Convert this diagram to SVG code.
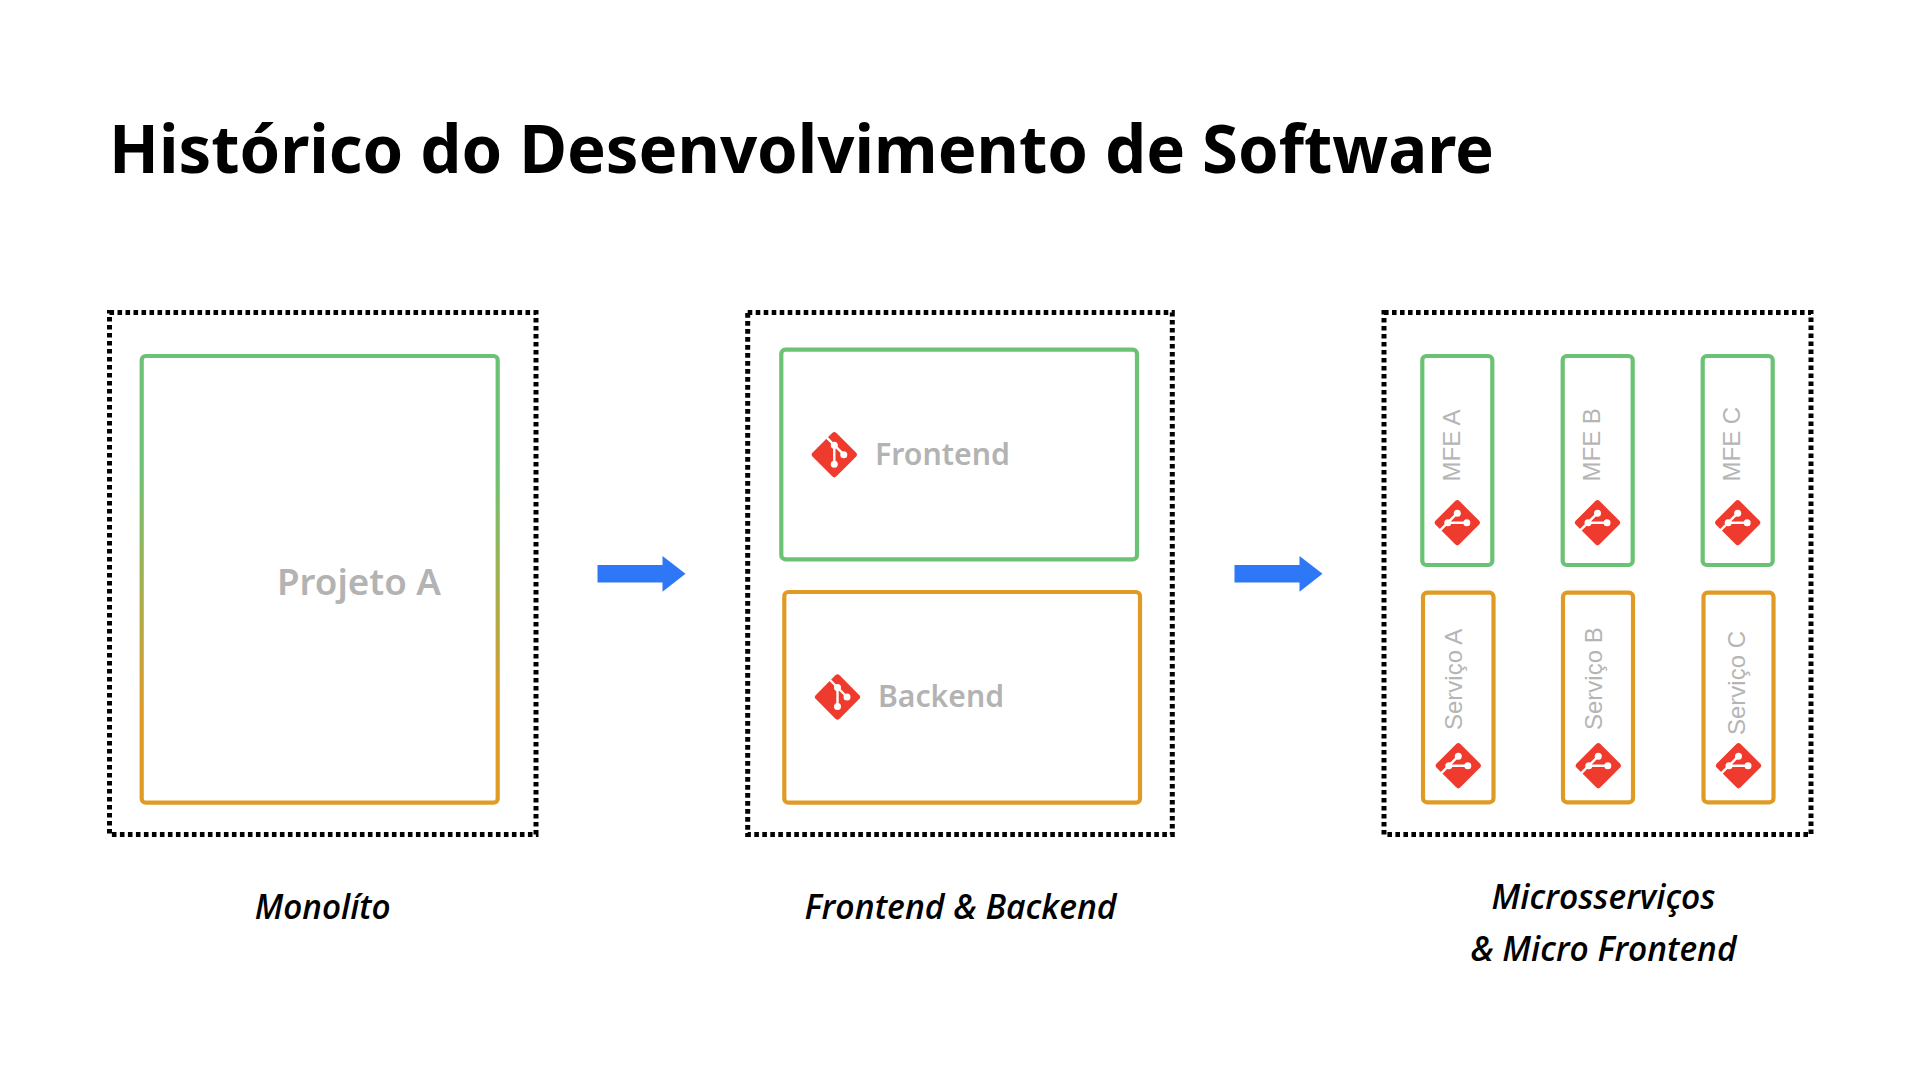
<svg xmlns="http://www.w3.org/2000/svg" xmlns:xlink="http://www.w3.org/1999/xlink" width="1920" height="1080" viewBox="0 0 1920 1080">
<style>
.dot{fill:none;stroke:#000;stroke-width:5;stroke-dasharray:4.6 3.4}
.box{fill:#fff;stroke-width:4.2;stroke-linejoin:round}
.g{stroke:#6cc274}
.o{stroke:#e09b27}
.lbl{font-family:"Noto Sans",sans-serif;font-weight:600;fill:#b3b3b3}
.v{font-family:"Liberation Sans",Arial,sans-serif;font-size:24px;fill:#b5b5b5}
.cap{font-family:"Open Sans",sans-serif;font-style:italic;font-weight:600;font-size:35px;fill:#000;text-anchor:middle}
</style>
<defs>
<linearGradient id="mono" x1="0" y1="0" x2="0" y2="1"><stop offset="0" stop-color="#6cc274"/><stop offset="0.25" stop-color="#6cc274"/><stop offset="0.8" stop-color="#e09b27"/><stop offset="1" stop-color="#e09b27"/></linearGradient>
<g id="git">
<rect x="-16.800000" y="-16.800000" width="33.600000" height="33.600000" rx="3" fill="#ef3b2d" transform="rotate(45)"/>
<path d="M-9 -18.500000L0 -9.500000V9.500000M0 -9.500000L9.500000 0" fill="none" stroke="#fff" stroke-width="2.400000"/>
<circle cx="0" cy="-9.500000" r="3.500000" fill="#fff"/><circle cx="0" cy="9.500000" r="3.500000" fill="#fff"/><circle cx="9.500000" cy="0" r="3.500000" fill="#fff"/>
</g>
<path id="arrow" d="M0 -8.700000H65V-17.700000L88 0L65 18V8.700000H0Z" fill="#2e77f6"/>
</defs>
<rect width="1920" height="1080" fill="#fff"/>
<text id="title" x="109" y="173" font-family="Noto Sans, sans-serif" font-weight="700" font-size="67" textLength="1385" lengthAdjust="spacingAndGlyphs" fill="#000">Histórico do Desenvolvimento de Software</text>
<g id="connectors">
<use xlink:href="#arrow" x="597.500000" y="573.700000"/>
<use xlink:href="#arrow" x="1234.500000" y="573.700000"/>
</g>
<g id="monolito">
<rect class="dot" x="109.500000" y="312.500000" width="426.500000" height="522"/>
<rect x="141.700000" y="356" width="356" height="446.700000" rx="4" fill="#fff" stroke="url(#mono)" stroke-width="4.200000"/>
<text class="lbl" x="277" y="595" font-size="36" textLength="164" lengthAdjust="spacingAndGlyphs">Projeto A</text>
<text class="cap" x="322.700000" y="918.800000" textLength="136" lengthAdjust="spacingAndGlyphs">Monolíto</text>
</g>
<g id="frontend-backend">
<rect class="dot" x="747.700000" y="312.500000" width="424.600000" height="522"/>
<g id="frontend"><rect class="box g" x="781.300000" y="349.700000" width="355.700000" height="209.600000" rx="4"/>
<use xlink:href="#git" x="834.300000" y="454.700000"/>
<text class="lbl" x="875" y="465" font-size="31" textLength="135" lengthAdjust="spacingAndGlyphs">Frontend</text></g>
<g id="backend"><rect class="box o" x="784.300000" y="592" width="355.700000" height="210.700000" rx="4"/>
<use xlink:href="#git" x="837.500000" y="697"/>
<text class="lbl" x="878" y="707" font-size="31" textLength="126" lengthAdjust="spacingAndGlyphs">Backend</text></g>
<text class="cap" x="960.600000" y="918.800000" textLength="312" lengthAdjust="spacingAndGlyphs">Frontend &amp; Backend</text>
</g>
<g id="micro">
<rect class="dot" x="1384" y="312.500000" width="427" height="522"/>
<g id="mfe-a"><rect class="box g" x="1422.300000" y="356" width="70" height="209" rx="4"/><use xlink:href="#git" transform="translate(1457.300000 522.700000) rotate(-90)"/><text class="v" transform="translate(1460.300000 481.500000) rotate(-90)">MFE A</text></g>
<g id="mfe-b"><rect class="box g" x="1562.700000" y="356" width="70" height="209" rx="4"/><use xlink:href="#git" transform="translate(1597.500000 522.700000) rotate(-90)"/><text class="v" transform="translate(1600.300000 481.500000) rotate(-90)">MFE B</text></g>
<g id="mfe-c"><rect class="box g" x="1702.700000" y="356" width="70" height="209" rx="4"/><use xlink:href="#git" transform="translate(1737.700000 522.700000) rotate(-90)"/><text class="v" transform="translate(1740.300000 481.500000) rotate(-90)">MFE C</text></g>
<g id="servico-a"><rect class="box o" x="1423" y="592.700000" width="70.500000" height="209.600000" rx="4"/><use xlink:href="#git" transform="translate(1458.300000 765.700000) rotate(-90)"/><text class="v" transform="translate(1461.700000 730) rotate(-90)">Serviço A</text></g>
<g id="servico-b"><rect class="box o" x="1563" y="592.700000" width="70" height="209.600000" rx="4"/><use xlink:href="#git" transform="translate(1598.300000 765.700000) rotate(-90)"/><text class="v" transform="translate(1601.700000 730) rotate(-90)">Serviço B</text></g>
<g id="servico-c"><rect class="box o" x="1703.500000" y="592.700000" width="70" height="209.600000" rx="4"/><use xlink:href="#git" transform="translate(1738.500000 765.700000) rotate(-90)"/><text class="v" transform="translate(1745 735) rotate(-90)">Serviço C</text></g>
<text class="cap" x="1603.500000" y="908.800000" textLength="224" lengthAdjust="spacingAndGlyphs">Microsserviços</text>
<text class="cap" x="1603.500000" y="961" textLength="266" lengthAdjust="spacingAndGlyphs">&amp; Micro Frontend</text>
</g>
</svg>
